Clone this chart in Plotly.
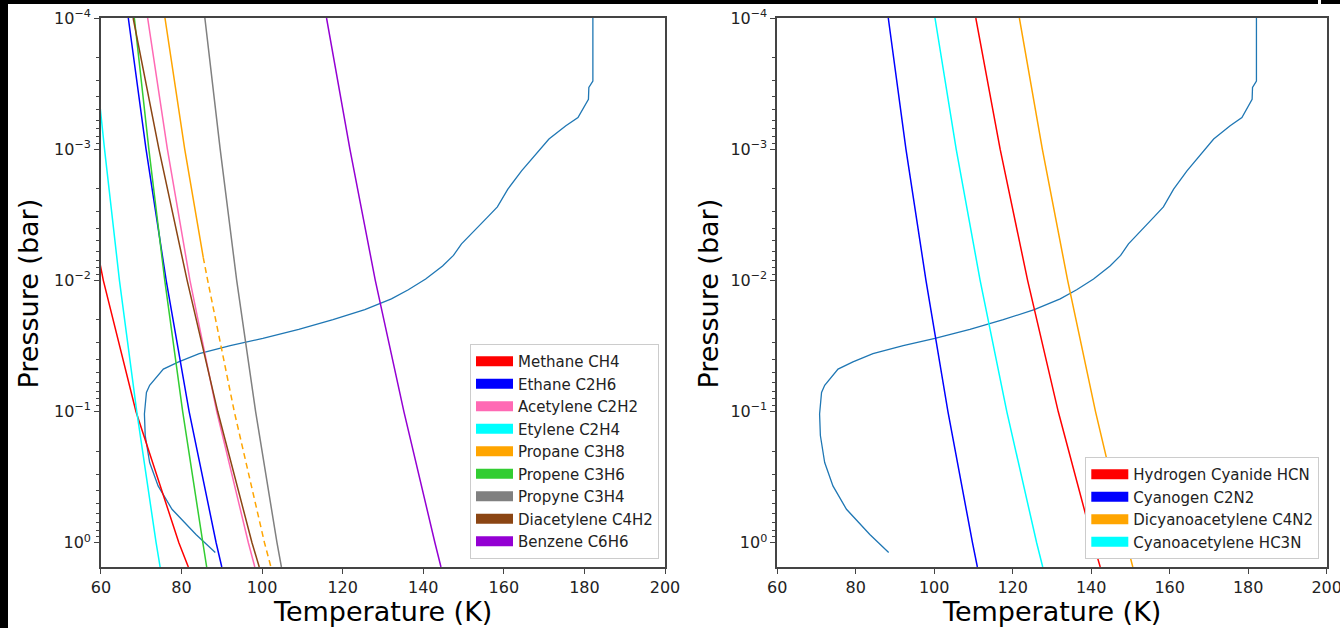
import numpy as np
import plotly.graph_objects as go

# ---------------- data ----------------
# common log10(pressure / bar) grid used for the saturation curves
sat_log10_p = [-4.0, -3.0, -2.0, -1.0, 0.0, 0.185]

# Left panel: hydrocarbon saturation temperatures (K) on sat_log10_p
methane_T = [49.0, 54.2, 60.6, 68.7, 79.35, 81.7]
ethane_T = [66.8, 71.2, 76.2, 81.9, 88.6, 90.0]
acetylene_T = [71.6, 76.5, 82.1, 88.75, 96.6, 98.2]
etylene_T = [57.5, 60.9, 64.6, 68.9, 73.7, 74.7]
propene_T = [68.3, 71.9, 75.85, 80.3, 85.3, 86.25]
propyne_T = [85.8, 89.6, 93.7, 98.4, 103.7, 104.8]
diacetylene_T = [68.0, 74.4, 81.4, 89.0, 97.5, 99.3]
benzene_T = [116.0, 121.8, 128.1, 135.2, 142.9, 144.4]

# Propane: solid above ~7e-3 bar, dashed below
propane_solid_log10_p = [-4.0, -3.0, -2.176]
propane_solid_T = [75.9, 80.8, 85.4]
propane_dashed_log10_p = [-2.176, -2.0, -1.0, 0.0, 0.185]
propane_dashed_T = [85.4, 86.5, 93.1, 100.6, 102.2]

# Right panel: nitrile saturation temperatures (K) on sat_log10_p
hcn_T = [110.6, 116.8, 123.8, 131.6, 140.5, 142.3]
c2n2_T = [88.3, 92.8, 97.9, 103.5, 109.75, 111.0]
c4n2_T = [121.7, 127.55, 134.0, 141.1, 149.0, 150.6]
hc3n_T = [100.2, 105.6, 111.7, 118.5, 126.1, 127.65]

# Temperature profile (K) vs log10(pressure / bar)
profile_T = [88.4, 83.6, 77.65, 74.2, 72.1, 71.0, 70.8, 71.3, 72.1, 75.5, 79.3,
             84.4, 92.1, 100.2, 109.1, 117.6, 125.5, 132.1, 136.3, 140.6, 144.8,
             147.5, 149.5, 152.0, 155.9, 158.4, 161.0, 164.4, 168.2, 171.2,
             175.4, 178.4, 181.0, 181.1, 182.1, 182.1]
profile_log10_p = [0.074, -0.063, -0.255, -0.433, -0.611, -0.817, -0.982, -1.146,
                   -1.20, -1.324, -1.379, -1.442, -1.503, -1.558, -1.626, -1.70,
                   -1.777, -1.859, -1.928, -2.01, -2.11, -2.19, -2.278, -2.36,
                   -2.48, -2.56, -2.696, -2.835, -2.975, -3.077, -3.178, -3.241,
                   -3.381, -3.47, -3.52, -4.0]

left_species = ["Methane CH4", "Ethane C2H6", "Acetylene C2H2", "Etylene C2H4",
                "Propane C3H8", "Propene C3H6", "Propyne C3H4", "Diacetylene C4H2",
                "Benzene C6H6"]
left_colors = ["#ff0000", "#0000ff", "#ff69b4", "#00ffff", "#ffa500", "#32cd32",
               "#808080", "#8b4513", "#9400d3"]
right_species = ["Hydrogen Cyanide HCN", "Cyanogen C2N2", "Dicyanoacetylene C4N2",
                 "Cyanoacetylene HC3N"]
right_colors = ["#ff0000", "#0000ff", "#ffa500", "#00ffff"]

x_ticks = [60, 80, 100, 120, 140, 160, 180, 200]
y_ticks = [1e-4, 1e-3, 1e-2, 1e-1, 1.0]
y_ticktext = ["10<sup>\u22124</sup>", "10<sup>\u22123</sup>", "10<sup>\u22122</sup>",
              "10<sup>\u22121</sup>", "10<sup>0</sup>"]

# ---------------- figure ----------------
W, H = 1340, 628
FONT = "DejaVu Sans"
profile_color = "#1f77b4"
axis_color = "#444444"
text_color = "#222222"

def p(vals):
    return list(10 ** np.asarray(vals, dtype=float))

fig = go.Figure()

# profiles
for ax in ["", "2"]:
    fig.add_trace(go.Scatter(x=profile_T, y=p(profile_log10_p), mode="lines",
                             line=dict(color=profile_color, width=1.3),
                             showlegend=False, hoverinfo="skip",
                             xaxis="x" + ax, yaxis="y" + ax))

left_T = {"Methane CH4": methane_T, "Ethane C2H6": ethane_T,
          "Acetylene C2H2": acetylene_T, "Etylene C2H4": etylene_T,
          "Propene C3H6": propene_T, "Propyne C3H4": propyne_T,
          "Diacetylene C4H2": diacetylene_T, "Benzene C6H6": benzene_T}

for name, col in zip(left_species, left_colors):
    if name == "Propane C3H8":
        fig.add_trace(go.Scatter(x=propane_solid_T, y=p(propane_solid_log10_p),
                                 mode="lines", line=dict(color=col, width=1.5),
                                 showlegend=False, xaxis="x", yaxis="y"))
        fig.add_trace(go.Scatter(x=propane_dashed_T, y=p(propane_dashed_log10_p),
                                 mode="lines", line=dict(color=col, width=1.5, dash="6px,4px"),
                                 showlegend=False, xaxis="x", yaxis="y"))
    else:
        fig.add_trace(go.Scatter(x=left_T[name], y=p(sat_log10_p), mode="lines",
                                 line=dict(color=col, width=1.5),
                                 showlegend=False, xaxis="x", yaxis="y"))

right_T = {"Hydrogen Cyanide HCN": hcn_T, "Cyanogen C2N2": c2n2_T,
           "Dicyanoacetylene C4N2": c4n2_T, "Cyanoacetylene HC3N": hc3n_T}
for name, col in zip(right_species, right_colors):
    fig.add_trace(go.Scatter(x=right_T[name], y=p(sat_log10_p), mode="lines",
                             line=dict(color=col, width=1.5),
                             showlegend=False, xaxis="x2", yaxis="y2"))

# legend patches
for name, col in zip(left_species, left_colors):
    fig.add_trace(go.Scatter(x=[None], y=[None], mode="lines", name=name,
                             line=dict(color=col, width=10), legend="legend",
                             xaxis="x", yaxis="y"))
for name, col in zip(right_species, right_colors):
    fig.add_trace(go.Scatter(x=[None], y=[None], mode="lines", name=name,
                             line=dict(color=col, width=10), legend="legend2",
                             xaxis="x2", yaxis="y2"))

y_dom = [1 - 567 / H, 1 - 18 / H]
xl_dom = [100.9 / W, 665.0 / W]
xr_dom = [777.2 / W, 1326.7 / W]

minor_vals = [k * 10.0 ** e for e in range(-4, 1) for k in range(2, 10) if k * 10.0 ** e < 1.53]

def xaxis(dom, anchor):
    return dict(domain=dom, anchor=anchor, range=[60, 200], tickmode="array",
                tickvals=x_ticks, ticks="outside", ticklen=5, tickwidth=1.3,
                tickcolor=axis_color, showline=True, linecolor=axis_color,
                linewidth=1.5, mirror=True, showgrid=False, zeroline=False,
                tickfont=dict(family=FONT, size=16, color=text_color),
                ticklabeloverflow="allow", automargin=False)

def yaxis(anchor):
    return dict(domain=y_dom, anchor=anchor, type="log", range=[0.185, -4.0],
                tickmode="array", tickvals=y_ticks, ticktext=y_ticktext,
                ticks="outside", ticklen=5, tickwidth=1.3, tickcolor=axis_color,
                minor=dict(tickmode="array", tickvals=minor_vals, ticks="outside",
                           ticklen=3, tickwidth=1, tickcolor=axis_color, showgrid=False),
                showline=True, linecolor=axis_color, linewidth=1.5, mirror=True,
                showgrid=False, zeroline=False,
                tickfont=dict(family=FONT, size=16, color=text_color),
                ticklabeloverflow="allow", automargin=False)

legend_common = dict(font=dict(family=FONT, size=15, color=text_color),
                     bgcolor="white", bordercolor="#cccccc", borderwidth=1,
                     xanchor="right", yanchor="bottom", tracegroupgap=0,
                     traceorder="normal", itemwidth=37)

title_font = dict(family=FONT, size=27, color="#000000")
annotations = []
for dom in (xl_dom, xr_dom):
    annotations.append(dict(text="Temperature (K)", x=(dom[0] + dom[1]) / 2,
                            y=1 - 611.5 / H, xref="paper", yref="paper",
                            xanchor="center", yanchor="middle", showarrow=False,
                            font=title_font))
for xc in (27.5, 707.5):
    annotations.append(dict(text="Pressure (bar)", x=xc / W, y=1 - 294 / H,
                            xref="paper", yref="paper", xanchor="center",
                            yanchor="middle", textangle=-90, showarrow=False,
                            font=title_font))

shapes = [
    dict(type="rect", xref="paper", yref="paper", x0=0, x1=1318 / W, y0=1 - 4 / H, y1=1,
         fillcolor="black", line=dict(width=0), layer="above"),
    dict(type="rect", xref="paper", yref="paper", x0=1321 / W, x1=1, y0=1 - 4 / H, y1=1,
         fillcolor="black", line=dict(width=0), layer="above"),
    dict(type="rect", xref="paper", yref="paper", x0=0, x1=8 / W, y0=0, y1=1,
         fillcolor="black", line=dict(width=0), layer="above"),
]

fig.update_layout(
    width=W, height=H, autosize=False,
    margin=dict(l=0, r=0, t=0, b=0, pad=0),
    paper_bgcolor="white", plot_bgcolor="white",
    font=dict(family=FONT, color=text_color),
    xaxis=xaxis(xl_dom, "y"), yaxis=yaxis("x"),
    xaxis2=xaxis(xr_dom, "y2"), yaxis2=yaxis("x2"),
    legend=dict(x=659 / W, y=1 - 559 / H, **legend_common),
    legend2=dict(x=1319.3 / W, y=1 - 559 / H, **legend_common),
    annotations=annotations, shapes=shapes,
    hovermode=False,
)

fig.write_html("out.html", config={"displayModeBar": False},
               post_script="document.body.style.margin='0px';")
